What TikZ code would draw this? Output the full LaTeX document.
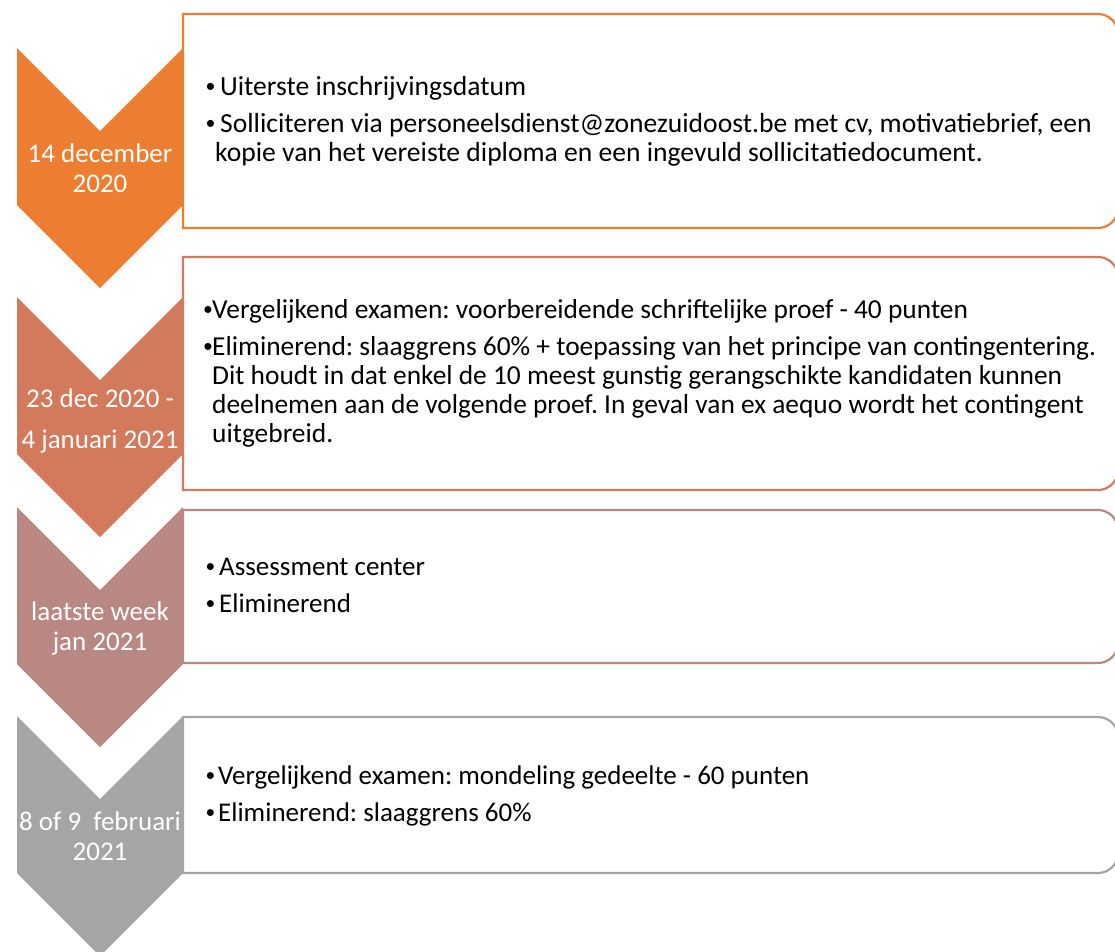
\documentclass[tikz,border=0pt]{standalone}
\usepackage{fontspec}
\setmainfont{Carlito}
\definecolor{fasea}{HTML}{ED7D31}
\definecolor{faseb}{HTML}{D37A5C}
\definecolor{fasec}{HTML}{B98882}
\definecolor{fased}{HTML}{A5A5A5}
\tikzset{
    datum/.style = {anchor=base, inner sep=0pt, text=white},
    detail/.style = {anchor=base west, inner sep=0pt, text=black},
    card/.style = {draw=#1, line width=2.2pt, fill=white}
}
\newcommand{\blt}[2][4.5pt]{\makebox[#2][l]{\hspace{#1}\raisebox{2.5pt}{\scalebox{0.72}{\textbullet}}}}
\newcommand{\txt}{\fontsize{27}{29}\selectfont\frenchspacing}
\newcommand{\dtxt}{\fontsize{27}{30}\selectfont\frenchspacing}

\begin{document}
\begin{tikzpicture}[x=1pt,y=-1pt]
    \useasboundingbox (0,0) rectangle (1115,951);
    % kaders met de uitleg
    \draw[card=fasea] (183,14) -- (1098,14) arc[start angle=-90,end angle=0,radius=20]
        -- (1118,208) arc[start angle=0,end angle=90,radius=20] -- (183,228) -- cycle;
    \draw[card=faseb] (183,257) -- (1098,257) arc[start angle=-90,end angle=0,radius=20]
        -- (1118,470) arc[start angle=0,end angle=90,radius=20] -- (183,490) -- cycle;
    \draw[card=fasec] (183,510) -- (1098,510) arc[start angle=-90,end angle=0,radius=20]
        -- (1118,643) arc[start angle=0,end angle=90,radius=20] -- (183,663) -- cycle;
    \draw[card=fased] (183,717) -- (1098,717) arc[start angle=-90,end angle=0,radius=20]
        -- (1118,853) arc[start angle=0,end angle=90,radius=20] -- (183,873) -- cycle;
    % pijlen
    \fill[fasea] (17,48) -- (100,131) -- (183,48) -- (183,205) -- (100,288) -- (17,205) -- cycle;
    \fill[faseb] (17,297) -- (100,380) -- (183,297) -- (183,454) -- (100,537) -- (17,454) -- cycle;
    \fill[fasec] (17,507) -- (100,590) -- (183,507) -- (183,664) -- (100,747) -- (17,664) -- cycle;
    \fill[fased] (17,716) -- (100,799) -- (183,716) -- (183,873) -- (100,956) -- (17,873) -- cycle;
    % data
    \node[datum] (dA) at (100,162) {\parbox[t]{170pt}{\dtxt\centering 14 december\\2020}};
    \node[datum] (dB) at (100,407) {\parbox[t]{170pt}{\dtxt\centering 23 dec 2020 -\\[11pt]4 januari 2021}};
    \node[datum] (dC) at (100,620) {\parbox[t]{170pt}{\dtxt\centering laatste week\\jan 2021}};
    \node[datum] (dD) at (100,830) {\parbox[t]{170pt}{\dtxt\centering 8 of 9~\ februari\\2021}};
    % stappen
    \node[detail] (sA) at (201,95) {\parbox[t]{910pt}{\txt\fontsize{27.6}{29}\selectfont
        \blt{19pt}Uiterste inschrijvingsdatum\par\vspace{8pt}
        \hangindent=14pt\hangafter=1
        \blt{19pt}Solliciteren via personeelsdienst@zonezuidoost.be met cv, motivatiebrief, een\\
        kopie van het vereiste diploma en een ingevuld sollicitatiedocument.}};
    \node[detail] (sB) at (201,318) {\parbox[t]{910pt}{\txt\fontsize{27.4}{29}\selectfont
        \blt[2pt]{11pt}Vergelijkend examen: voorbereidende schriftelijke proef - 40 punten\par\vspace{8pt}
        \hangindent=11pt\hangafter=1
        \blt[2pt]{11pt}Eliminerend: slaaggrens 60\% + toepassing van het principe van contingentering.\\
        Dit houdt in dat enkel de 10 meest gunstig gerangschikte kandidaten kunnen\\
        deelnemen aan de volgende proef. In geval van ex aequo wordt het contingent\\
        uitgebreid.}};
    \node[detail] (sC) at (201,575) {\parbox[t]{910pt}{\txt
        \blt{18pt}Assessment center\par\vspace{8pt}
        \blt{18pt}Eliminerend}};
    \node[detail] (sD) at (201,784) {\parbox[t]{910pt}{\txt
        \blt{17pt}Vergelijkend examen: mondeling gedeelte - 60 punten\par\vspace{8pt}
        \blt{17pt}Eliminerend: slaaggrens 60\%}};
\end{tikzpicture}
\end{document}
